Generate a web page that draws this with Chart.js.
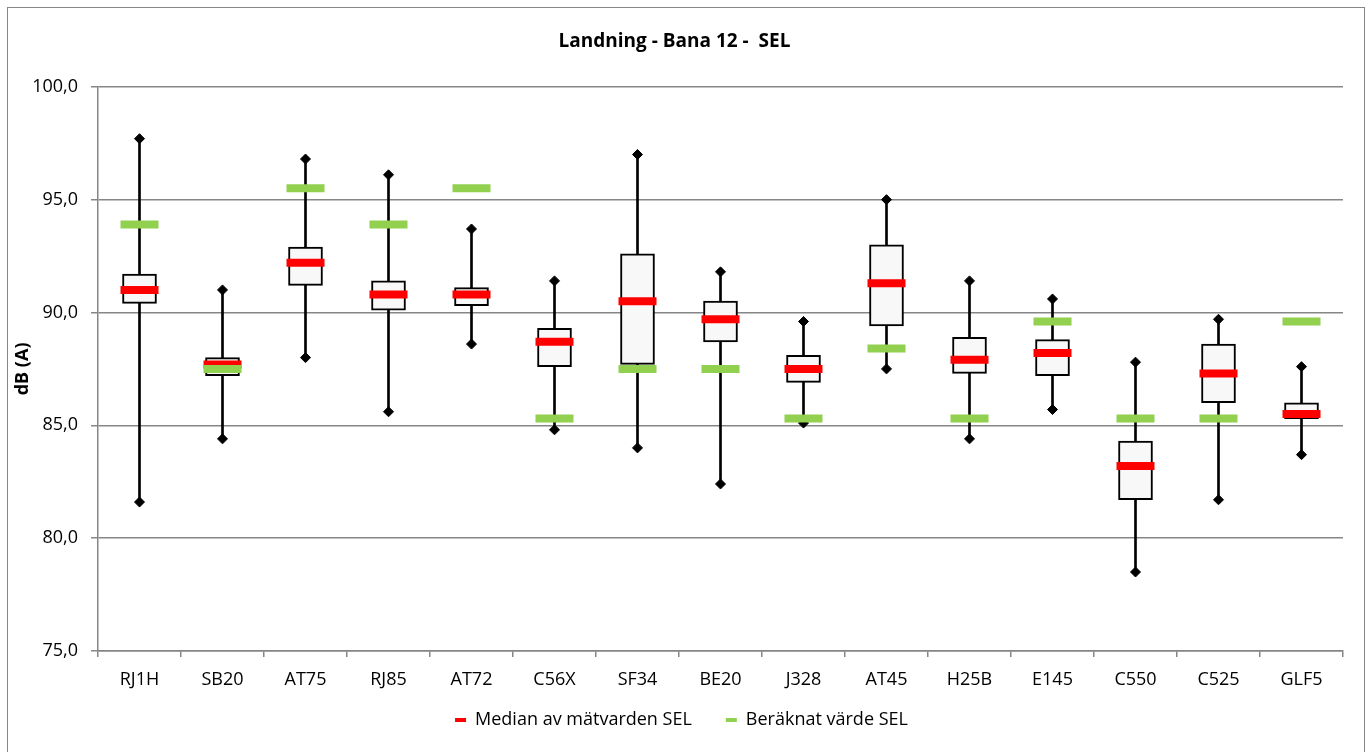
<!DOCTYPE html>
<html>
<head>
<meta charset="utf-8">
<script src="https://cdn.jsdelivr.net/npm/chart.js@4.4.1/dist/chart.umd.min.js"></script>
<style>
    body { margin: 0; background: #fff; }
    #frame { position: absolute; left: 7px; top: 7px; width: 1356px; height: 744px; border: 1px solid #878787; }
    #boxChart { position: absolute; left: 0; top: 0; }
</style>
</head>
<body>
<div id="frame"></div>
<canvas id="boxChart" width="1370" height="752"></canvas>
<script>
// aircraft types
var categories = ["RJ1H", "SB20", "AT75", "RJ85", "AT72", "C56X", "SF34", "BE20", "J328", "AT45", "H25B", "E145", "C550", "C525", "GLF5"];
// measured SEL, dB(A)
var maxVals  = [97.7, 91.0, 96.8, 96.1, 93.7, 91.4, 97.0, 91.8, 89.6, 95.0, 91.4, 90.6, 87.8, 89.7, 87.6];
var q3Vals   = [91.7, 88.0, 92.9, 91.4, 91.1, 89.3, 92.6, 90.5, 88.1, 93.0, 88.9, 88.8, 84.3, 88.6, 86.0];
var medians  = [91.0, 87.7, 92.2, 90.8, 90.8, 88.7, 90.5, 89.7, 87.5, 91.3, 87.9, 88.2, 83.2, 87.3, 85.5];
var q1Vals   = [90.4, 87.2, 91.2, 90.1, 90.3, 87.6, 87.7, 88.7, 86.9, 89.4, 87.3, 87.2, 81.7, 86.0, 85.3];
var minVals  = [81.6, 84.4, 88.0, 85.6, 88.6, 84.8, 84.0, 82.4, 85.1, 87.5, 84.4, 85.7, 78.5, 81.7, 83.7];
// computed SEL
var computed = [93.9, 87.5, 95.5, 93.9, 95.5, 85.3, 87.5, 87.5, 85.3, 88.4, 85.3, 89.6, 85.3, 85.3, 89.6];

var RED = "#ff0000";
var GREEN = "#92d050";
var GRID = "#868686";

Chart.defaults.font.family = "'Open Sans', sans-serif";
Chart.defaults.font.size = 18;
Chart.defaults.color = "#000";

var boxes = q1Vals.map(function (v, i) { return [v, q3Vals[i]]; });
var whiskers = minVals.map(function (v, i) { return [v, maxVals[i]]; });

var data = {
    labels: categories,
    datasets: [
        {
            label: "Beräknat värde SEL",
            type: "line",
            data: computed,
            showLine: false,
            pointStyle: "line",
            pointRadius: 19,
            pointHoverRadius: 19,
            pointBorderWidth: 8,
            pointHoverBorderWidth: 8,
            pointBorderColor: GREEN,
            borderColor: GREEN,
            order: 0
        },
        {
            label: "Median av mätvarden SEL",
            type: "line",
            data: medians,
            showLine: false,
            pointStyle: "line",
            pointRadius: 19,
            pointHoverRadius: 19,
            pointBorderWidth: 8,
            pointHoverBorderWidth: 8,
            pointBorderColor: RED,
            borderColor: RED,
            order: 1
        },
        {
            label: "Max",
            type: "line",
            data: maxVals,
            showLine: false,
            pointStyle: "rectRot",
            pointRadius: 5,
            pointHoverRadius: 5,
            pointBackgroundColor: "#000",
            pointBorderColor: "#000",
            pointBorderWidth: 1,
            order: 2
        },
        {
            label: "Min",
            type: "line",
            data: minVals,
            showLine: false,
            pointStyle: "rectRot",
            pointRadius: 5,
            pointHoverRadius: 5,
            pointBackgroundColor: "#000",
            pointBorderColor: "#000",
            pointBorderWidth: 1,
            order: 2
        },
        {
            label: "Box",
            data: boxes,
            grouped: false,
            barThickness: 34,
            backgroundColor: "#f8f8f8",
            borderColor: "#000",
            borderWidth: 2,
            borderSkipped: false,
            order: 3
        },
        {
            label: "Whisker",
            data: whiskers,
            grouped: false,
            barThickness: 2,
            backgroundColor: "#000",
            borderWidth: 0,
            order: 4
        }
    ]
};

// pull the legend up closer to the axis labels
var legendShift = {
    id: "legendShift",
    afterLayout: function (chart) {
        chart.legend.top -= 24;
        chart.legend.bottom -= 24;
        chart.legend.left += 7;
        chart.legend.right += 7;
    }
};

var options = {
    responsive: false,
    animation: false,
    layout: { padding: { top: 8, left: 0, right: 21, bottom: -11 } },
    plugins: {
        title: {
            display: true,
            text: "Landning - Bana 12 -  SEL",
            font: { size: 19, weight: "bold" },
            color: "#000",
            padding: { top: 22, bottom: 34 }
        },
        legend: {
            position: "bottom",
            labels: {
                usePointStyle: true,
                pointStyleWidth: 11,
                padding: 34,
                color: "#000",
                generateLabels: function () {
                    return [
                        { text: "Median av mätvarden SEL", fillStyle: RED, strokeStyle: RED, lineWidth: 4, pointStyle: "line", datasetIndex: 1, hidden: false },
                        { text: "Beräknat värde SEL", fillStyle: GREEN, strokeStyle: GREEN, lineWidth: 4, pointStyle: "line", datasetIndex: 0, hidden: false }
                    ];
                }
            }
        },
        tooltip: { enabled: false }
    },
    scales: {
        x: {
            afterFit: function (scale) { scale.height = 50; },
            grid: { drawOnChartArea: false, color: GRID, lineWidth: 1.5, tickLength: 6 },
            border: { color: GRID, width: 1.5 },
            ticks: { padding: 12, color: "#000", maxRotation: 0 }
        },
        y: {
            min: 75,
            max: 100,
            afterFit: function (scale) { scale.width = 98; },
            ticks: {
                stepSize: 5,
                padding: 13,
                color: "#000",
                callback: function (v) { return v.toFixed(1).replace(".", ","); }
            },
            grid: { color: GRID, lineWidth: 1.5, tickLength: 7 },
            border: { color: GRID, width: 1.5 },
            title: {
                display: true,
                text: "dB (A)",
                font: { size: 18, weight: "bold" },
                color: "#000",
                padding: { top: 12, bottom: 0 }
            }
        }
    }
};

var ctx = document.getElementById("boxChart").getContext("2d");
new Chart(ctx, { type: "bar", data: data, options: options, plugins: [legendShift] });
</script>
</body>
</html>
